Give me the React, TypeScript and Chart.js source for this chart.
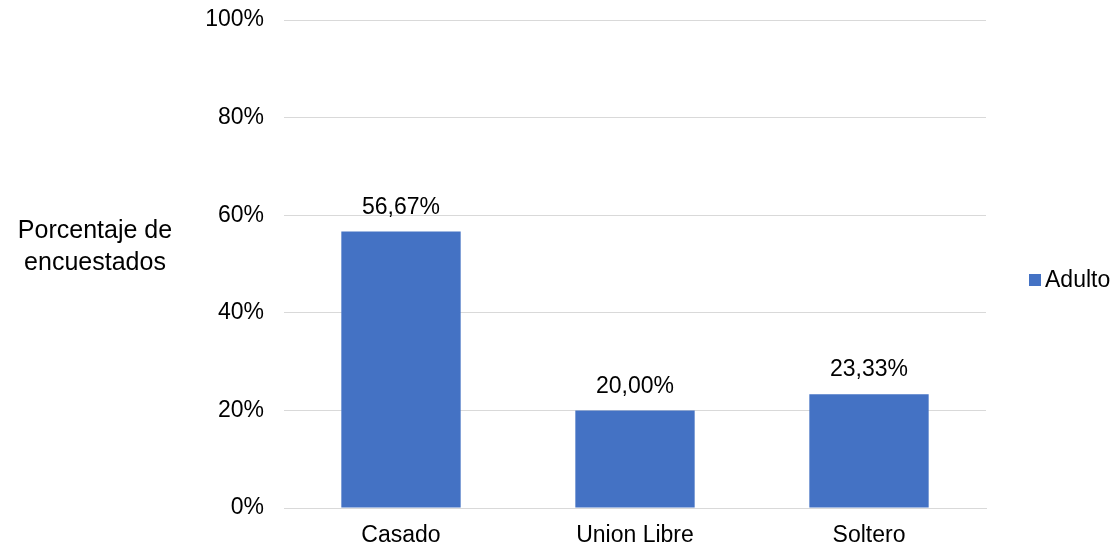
import React, { useEffect, useRef } from "react";
import { Chart, registerables } from "chart.js";

Chart.register(...registerables);

const categories = ["Casado", "Union Libre", "Soltero"];
const adultoValues = [56.67, 20.0, 23.33];
const valueLabels = ["56,67%", "20,00%", "23,33%"];
const seriesName = "Adulto";
const yTitleLines = ["Porcentaje de", "encuestados"];

const FONT = "'Liberation Sans', Arial, sans-serif";
const BAR_COLOR = "#4472C4";

const overlayPlugin = {
  id: "overlay",
  afterDatasetsDraw(chart: any) {
    const ctx = chart.ctx;
    const meta = chart.getDatasetMeta(0);
    ctx.save();
    ctx.fillStyle = "#000";
    ctx.font = `23px ${FONT}`;
    ctx.textAlign = "center";
    ctx.textBaseline = "middle";
    meta.data.forEach((bar: any, i: number) => {
      ctx.fillText(valueLabels[i], bar.x, bar.y - 24);
    });
    // Y title (horizontal)
    ctx.font = `25px ${FONT}`;
    yTitleLines.forEach((line, i) => {
      ctx.fillText(line, 95, 231 + i * 32);
    });
    // Legend
    ctx.font = `23px ${FONT}`;
    ctx.fillStyle = BAR_COLOR;
    ctx.fillRect(1029, 274, 12, 12);
    ctx.fillStyle = "#000";
    ctx.textAlign = "left";
    ctx.fillText(seriesName, 1045, 281);
    ctx.restore();
  },
};

export default function App() {
  const ref = useRef<HTMLCanvasElement>(null);
  useEffect(() => {
    document.body.style.margin = "0";
    const chart = new Chart(ref.current!, {
      type: "bar",
      data: {
        labels: categories,
        datasets: [
          {
            label: seriesName,
            data: adultoValues,
            backgroundColor: BAR_COLOR,
            categoryPercentage: 1,
            barPercentage: 0.51,
          },
        ],
      },
      options: {
        animation: false,
        responsive: false,
        maintainAspectRatio: false,
        layout: { padding: { left: 0, right: 133, top: 20, bottom: 0 } },
        plugins: { legend: { display: false }, tooltip: { enabled: false } },
        scales: {
          x: {
            grid: { display: false, drawTicks: false },
            border: { display: true, color: "#d9d9d9", width: 1 },
            ticks: { color: "#000", font: { family: FONT, size: 23 }, padding: 14 },
            afterFit(scale: any) {
              scale.height = 44;
              scale.paddingLeft = 0;
              scale.paddingRight = 0;
            },
          },
          y: {
            min: 0,
            max: 100,
            ticks: {
              stepSize: 20,
              color: "#000",
              font: { family: FONT, size: 23 },
              padding: 20,
              callback: (v: any) => `${v}%`,
            },
            grid: { color: "#d9d9d9", drawTicks: false },
            border: { display: false },
            afterFit(scale: any) {
              scale.width = 284;
              scale.paddingTop = 0;
              scale.paddingBottom = 0;
            },
          },
        },
      },
      plugins: [overlayPlugin],
    });
    return () => chart.destroy();
  }, []);
  return (
    <div style={{ width: 1119, height: 552 }}>
      <canvas ref={ref} width={1119} height={552} />
    </div>
  );
}
